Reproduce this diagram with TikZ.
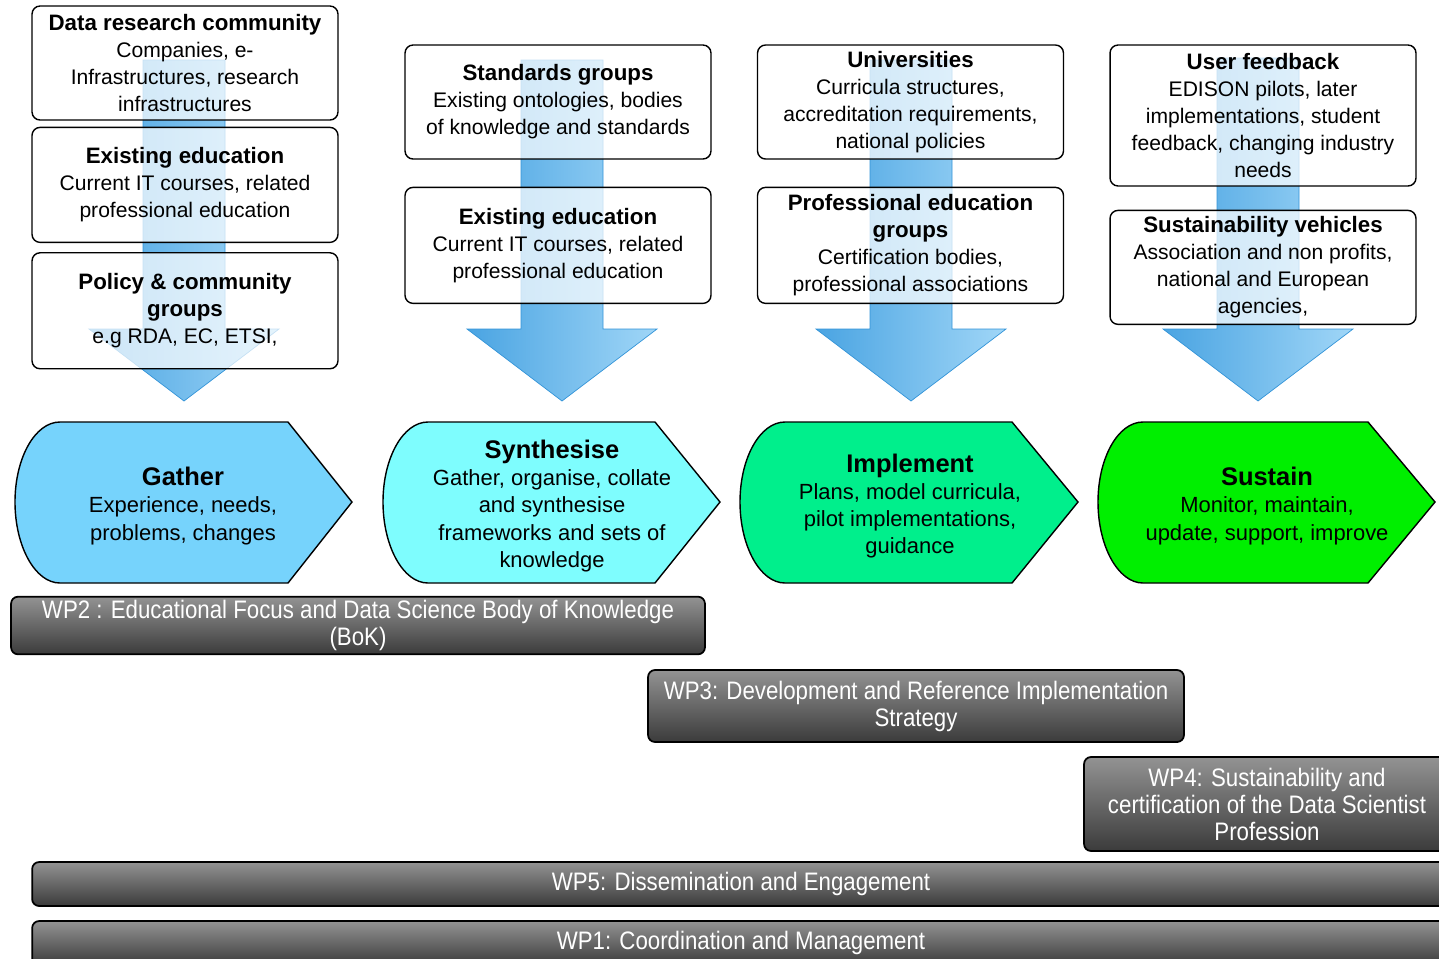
\documentclass[tikz,border=0pt]{standalone}
\usepackage{fontspec}
\setmainfont{Liberation Sans}
\newfontfamily\narrowfont[FakeStretch=0.88]{Liberation Sans}
\usetikzlibrary{positioning}

\definecolor{gathercol}{HTML}{76D3FC}
\definecolor{synthcol}{HTML}{7EFDFE}
\definecolor{implcol}{HTML}{00EF8C}
\definecolor{sustcol}{HTML}{00EF00}
\definecolor{arrowdark}{HTML}{4AA4E2}
\definecolor{arrowlight}{HTML}{A0D6F7}
\definecolor{arrowedge}{HTML}{3394D8}
\definecolor{wptop}{HTML}{939393}
\definecolor{wpbottom}{HTML}{3B3B3B}

\newcommand{\feedtitle}[1]{{\fontsize{12.7}{15.4}\selectfont\bfseries #1}}

\begin{document}
\begin{tikzpicture}[
        x=0.02cm, y=-0.02cm,
        feed/.style={rectangle, rounded corners=0.16cm, draw=black, line width=0.8pt, fill=white, fill opacity=0.72, text opacity=1, minimum width=6.12cm, minimum height=2.28cm, inner sep=2pt, align=center, font=\fontsize{12}{15.4}\selectfont},
        flow/.style={left color=arrowdark, right color=arrowlight, draw=arrowedge, line width=0.4pt},
        stage/.style={draw=black, line width=0.8pt},
        stagetext/.style={align=center, font=\fontsize{12.5}{15.4}\selectfont},
        wp/.style={rectangle, rounded corners=0.14cm, draw=black, line width=1pt, top color=wptop, bottom color=wpbottom, text=white, align=center, inner sep=2pt, font=\narrowfont\fontsize{14.4}{15.4}\selectfont}
    ]
    \useasboundingbox (0,0) rectangle (1439,958);
    \clip (0,0) rectangle (1439,958);

    % Input arrows
    \path[flow] (143,60) -- (225,60) -- (225,329) -- (279,329) -- (184,401) -- (89,329) -- (143,329) -- cycle;
    \path[flow] (521,60) -- (603,60) -- (603,329) -- (657,329) -- (562,401) -- (467,329) -- (521,329) -- cycle;
    \path[flow] (870,60) -- (952,60) -- (952,329) -- (1006,329) -- (911,401) -- (816,329) -- (870,329) -- cycle;
    \path[flow] (1217,58) -- (1299,58) -- (1299,329) -- (1353,329) -- (1258,401) -- (1163,329) -- (1217,329) -- cycle;

    % Gather inputs
    \node[feed] (datacomm) at (185,63) {\feedtitle{Data research community}\\Companies, e-\\Infrastructures, research\\infrastructures};
    \node[feed, below=0.12cm of datacomm, minimum height=2.3cm] (itcourses) {\feedtitle{Existing education}\\Current IT courses, related\\professional education};
    \node[feed, below=0.18cm of itcourses, minimum height=2.32cm] (policy) {\feedtitle{Policy \& community}\\\feedtitle{groups}\\e.g RDA, EC, ETSI,};

    % Synthesise inputs
    \node[feed] (standards) at (558,102) {\feedtitle{Standards groups}\\Existing ontologies, bodies\\of knowledge and standards};
    \node[feed, below=0.54cm of standards, minimum height=2.32cm] (existedu) {\feedtitle{Existing education}\\Current IT courses, related\\professional education};

    % Implement inputs
    \node[feed] (universities) at (910.5,102) {\feedtitle{Universities}\\Curricula structures,\\accreditation requirements,\\national policies};
    \node[feed, below=0.54cm of universities, minimum height=2.32cm] (profedu) {\feedtitle{Professional education}\\\feedtitle{groups}\\Certification bodies,\\professional associations};

    % Sustain inputs
    \node[feed, minimum height=2.82cm] (userfeed) at (1263,115.5) {\feedtitle{User feedback}\\EDISON pilots, later\\implementations, student\\feedback, changing industry\\needs};
    \node[feed, below=0.46cm of userfeed] (vehicles) {\feedtitle{Sustainability vehicles}\\Association and non profits,\\national and European\\agencies,};

    % Stages
    \path[stage, fill=gathercol] (60,422) -- (288,422) -- (352,502) -- (288,583) -- (60,583) .. controls (35,583) and (15,546) .. (15,502) .. controls (15,458) and (35,422) .. (60,422) -- cycle;
    \path[stage, fill=synthcol] (428,422) -- (655,422) -- (720,502) -- (655,583) -- (428,583) .. controls (403,583) and (383,546) .. (383,502) .. controls (383,458) and (403,422) .. (428,422) -- cycle;
    \path[stage, fill=implcol] (785,422) -- (1012,422) -- (1078,502) -- (1012,583) -- (785,583) .. controls (760,583) and (740,546) .. (740,502) .. controls (740,458) and (760,422) .. (785,422) -- cycle;
    \path[stage, fill=sustcol] (1143,422) -- (1368,422) -- (1435,502) -- (1368,583) -- (1143,583) .. controls (1118,583) and (1098,546) .. (1098,502) .. controls (1098,458) and (1118,422) .. (1143,422) -- cycle;

    \node[stagetext] (gather) at (183,506) {{\fontsize{14.5}{17}\selectfont\bfseries Gather}\\Experience, needs,\\problems, changes};
    \node[stagetext] (synth) at (552,506) {{\fontsize{14.5}{17}\selectfont\bfseries Synthesise}\\Gather, organise, collate\\and synthesise\\frameworks and sets of\\knowledge};
    \node[stagetext] (impl) at (910,506) {{\fontsize{14.5}{17}\selectfont\bfseries Implement}\\Plans, model curricula,\\pilot implementations,\\guidance};
    \node[stagetext] (sustain) at (1267,506) {{\fontsize{14.5}{17}\selectfont\bfseries Sustain}\\Monitor, maintain,\\update, support, improve};

    % Work packages
    \node[wp, minimum width=13.88cm, minimum height=1.1cm] (wp2) at (358,625.5) {WP2 : Educational Focus and Data Science Body of Knowledge\\(BoK)};
    \node[wp, minimum width=10.72cm, minimum height=1.44cm] (wp3) at (916,706) {WP3: Development and Reference Implementation\\Strategy};
    \node[wp, minimum width=7.32cm, minimum height=1.88cm] (wp4) at (1267,804) {WP4: Sustainability and\\certification of the Data Scientist\\Profession};
    \node[wp, minimum width=28.36cm, minimum height=0.88cm] (wp5) at (741,884) {WP5: Dissemination and Engagement};
    \node[wp, minimum width=28.36cm, minimum height=0.88cm] (wp1) at (741,943) {WP1: Coordination and Management};

\end{tikzpicture}
\end{document}
